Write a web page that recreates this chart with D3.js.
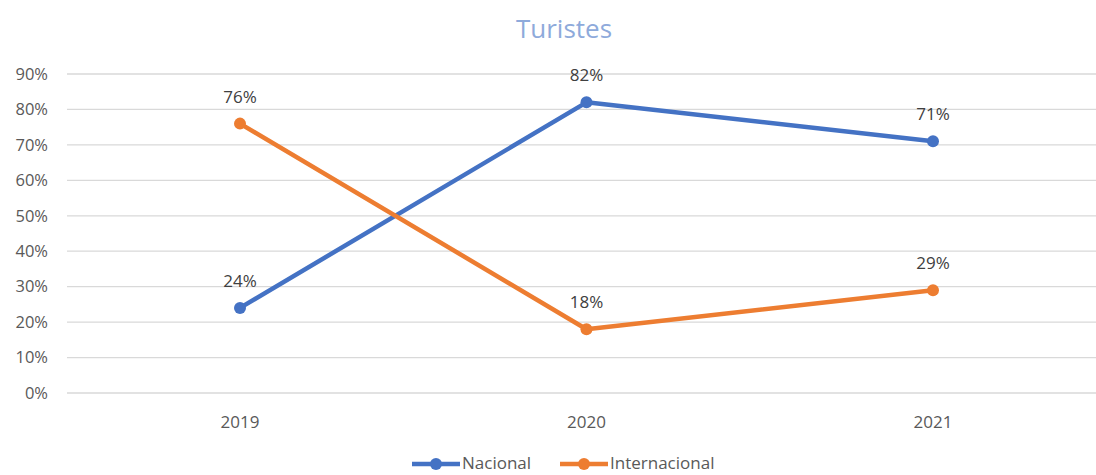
<!DOCTYPE html>
<html>
<head>
<meta charset="utf-8">
<script src="https://cdn.jsdelivr.net/npm/d3@7"></script>
<style>
  body { margin: 0; background: #fff; }
  text { font-family: "Open Sans", "Liberation Sans", sans-serif; }
</style>
</head>
<body>
<svg id="chart"></svg>
<script>
const years = ["2019", "2020", "2021"];
const nacional = [0.24, 0.82, 0.71];
const internacional = [0.76, 0.18, 0.29];
const yTicks = [0, 0.1, 0.2, 0.3, 0.4, 0.5, 0.6, 0.7, 0.8, 0.9];

const width = 1096, height = 475;
const svg = d3.select("#chart").attr("width", width).attr("height", height);

const x = d3.scalePoint().domain(years).range([240, 933]);
const y = d3.scaleLinear().domain([0, 0.9]).range([393, 74]);

// gridlines
svg.append("g")
    .selectAll("line")
    .data(yTicks)
    .enter()
    .append("line")
    .attr("x1", 67).attr("x2", width)
    .attr("y1", d => y(d)).attr("y2", d => y(d))
    .attr("stroke", "#d9d9d9")
    .attr("stroke-width", 1.3);

// y axis labels
svg.append("g")
    .selectAll("text")
    .data(yTicks)
    .enter()
    .append("text")
    .attr("x", 48)
    .attr("y", d => y(d))
    .attr("dy", "0.35em")
    .attr("text-anchor", "end")
    .attr("fill", "#595959")
    .attr("font-size", 16.5)
    .text(d => d3.format(".0%")(d));

// x axis labels
svg.append("g")
    .selectAll("text")
    .data(years)
    .enter()
    .append("text")
    .attr("x", d => x(d))
    .attr("y", 428)
    .attr("text-anchor", "middle")
    .attr("fill", "#595959")
    .attr("font-size", 17)
    .text(d => d);

// title
svg.append("text")
    .attr("x", 564).attr("y", 38)
    .attr("text-anchor", "middle")
    .attr("fill", "#8eaadb")
    .attr("font-size", 26)
    .text("Turistes");

const series = [
    {name: "Nacional", values: nacional, color: "#4472c4"},
    {name: "Internacional", values: internacional, color: "#ed7d31"}
];

const line = d3.line()
    .x((d, i) => x(years[i]))
    .y(d => y(d));

series.forEach(function(s) {
    svg.append("path")
        .attr("d", line(s.values))
        .attr("fill", "none")
        .attr("stroke", s.color)
        .attr("stroke-width", 4.5)
        .attr("stroke-linejoin", "round");

    svg.append("g")
        .selectAll("circle")
        .data(s.values)
        .enter()
        .append("circle")
        .attr("cx", (d, i) => x(years[i]))
        .attr("cy", d => y(d))
        .attr("r", 6)
        .attr("fill", s.color);

    svg.append("g")
        .selectAll("text")
        .data(s.values)
        .enter()
        .append("text")
        .attr("x", (d, i) => x(years[i]))
        .attr("y", d => y(d) - 21)
        .attr("text-anchor", "middle")
        .attr("fill", "#404040")
        .attr("font-size", 17)
        .text(d => d3.format(".0%")(d));
});

// legend
const legendPos = [412, 560];
series.forEach(function(s, i) {
    const g = svg.append("g").attr("transform", `translate(${legendPos[i]},464)`);
    g.append("line")
        .attr("x1", 0).attr("x2", 48)
        .attr("stroke", s.color).attr("stroke-width", 4.5);
    g.append("circle").attr("cx", 24).attr("r", 6).attr("fill", s.color);
    g.append("text")
        .attr("x", 50).attr("dy", "0.32em")
        .attr("fill", "#595959")
        .attr("font-size", 17)
        .text(s.name);
});
</script>
</body>
</html>
